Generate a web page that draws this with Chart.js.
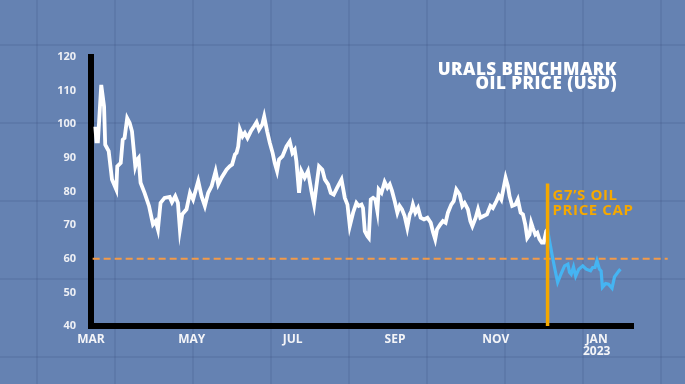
<!DOCTYPE html>
<html><head><meta charset="utf-8">
<script src="https://cdn.jsdelivr.net/npm/chart.js@4.4.1/dist/chart.umd.min.js"></script>
<style>html,body{margin:0;padding:0;background:#6582b2;}canvas{display:block;}</style>
</head><body>
<canvas id="c" width="685" height="384"></canvas>
<script>
// Days counted from 1 March 2022
const titleLines = ['URALS BENCHMARK', 'OIL PRICE (USD)'];
const capLabelLines = ['G7\u2019S OIL', 'PRICE CAP'];
const monthTickDays = [0, 61, 122, 184, 245, 306];
const monthTickLabels = ['MAR', 'MAY', 'JUL', 'SEP', 'NOV', ['JAN', '2023']];
const capDay = 276.3;
const capLineTop = 82.4;
const priceCap = 60;
const capLineEndDay = 349;

const whiteDays = [2.6,3.3,4.2,6.2,7.9,8.6,10.7,12.7,15.3,15.9,18.0,19.2,20.3,21.9,23.4,24.8,26.8,28.0,28.8,30.0,32.4,35.1,37.5,39.1,40.5,42.1,44.5,47.6,49.0,51.0,52.6,53.8,55.2,57.8,59.9,61.8,64.9,66.9,68.9,70.9,73.0,75.4,77.0,79.0,82.0,84.0,85.4,87.1,88.1,89.1,90.1,91.7,93.1,94.7,96.7,98.7,100.2,101.7,103.6,104.8,106.6,108.2,109.9,111.2,112.6,113.8,115.9,118.3,120.3,121.9,123.3,124.3,125.9,127.3,129.3,131.3,133.4,135.0,136.4,138.0,140.0,141.5,143.5,145.1,146.9,148.9,151.6,153.6,155.2,156.6,158.6,160.6,162.0,163.7,164.6,165.7,167.3,168.1,169.3,170.7,172.1,173.3,174.1,175.8,177.7,179.4,180.8,182.2,183.8,185.4,186.8,188.2,189.8,191.4,192.9,193.9,194.8,196.3,197.9,199.5,201.5,203.6,205.6,207.0,208.3,209.4,211.4,213.0,214.6,216.0,218.0,219.5,221.1,223.1,224.7,226.1,228.1,229.6,230.8,232.8,234.2,235.6,237.6,239.6,241.7,243.2,245.3,246.8,248.3,249.7,250.9,252.3,253.3,254.9,256.9,258.3,260.0,261.4,262.8,264.0,265.4,266.4,267.4,268.9,270.1,271.4,272.8,274.0,275.5,276.3];
const whitePrices = [99.3,94.9,94.9,111.7,105.3,93.9,92.0,83.6,80.6,87.5,88.5,95.4,95.9,101.8,100.4,97.9,87.5,89.5,90.0,82.6,79.6,75.7,70.2,71.2,68.7,76.6,78.1,78.4,76.8,78.6,76.6,68.7,73.2,74.7,79.6,77.6,83.1,78.6,75.7,79.6,81.6,86.0,82.1,84.1,86.5,87.5,88.0,91.0,91.5,93.4,98.4,96.4,97.4,95.9,97.9,99.4,100.6,98.4,99.9,102.3,97.9,94.5,91.5,88.5,86.1,89.5,90.5,93.4,94.9,91.5,92.4,89.0,79.6,86.1,84.1,86.1,80.1,76.1,81.6,87.5,86.5,83.6,82.1,79.6,79.1,81.1,83.6,78.1,76.1,69.7,73.7,76.6,75.7,76.1,75.1,68.2,66.7,66.2,77.6,78.1,77.6,74.2,80.6,79.6,82.8,81.1,82.1,80.1,77.1,73.7,75.7,74.7,72.7,69.2,73.2,74.2,76.1,73.7,75.1,72.2,71.7,72.2,70.7,67.9,65.8,68.7,70.2,71.2,70.7,73.7,76.1,77.1,80.6,79.1,75.7,76.6,74.7,71.2,69.7,72.2,74.7,72.2,72.7,73.2,75.7,75.1,77.1,78.8,77.6,81.1,84.1,81.6,78.6,75.7,76.1,77.6,73.7,73.2,70.2,66.2,67.2,70.7,69.2,67.2,67.7,65.8,64.8,64.8,68.2,68.7];

const blueDays = [276.3,277.5,279.5,280.9,282.4,284.2,286.6,288.6,289.6,290.6,292.0,293.3,295.2,297.6,299.7,302.3,303.6,305.0,306.2,307.7,308.7,309.5,311.4,313.2,315.3,316.8,319.5,320.4];
const bluePrices = [68.7,65.3,59.9,56.5,53.0,55.2,57.9,58.4,56.0,55.4,57.6,54.8,56.9,57.9,56.9,56.4,57.4,57.4,59.4,56.9,56.4,51.5,52.6,52.4,51.2,54.6,56.4,56.9];

const zip = (xs, ys) => xs.map((x, i) => ({x: x, y: ys[i]}));
const FONT = '"Open Sans", "Noto Sans", sans-serif';

const decor = {
  id: 'decor',
  beforeDraw(chart) {
    const ctx = chart.ctx;
    ctx.save();
    ctx.fillStyle = '#6582b2';
    ctx.fillRect(0, 0, chart.width, chart.height);
    ctx.strokeStyle = 'rgba(45,65,105,0.13)';
    ctx.lineWidth = 2;
    for (let x = 37; x < chart.width; x += 78) { ctx.beginPath(); ctx.moveTo(x, 0); ctx.lineTo(x, chart.height); ctx.stroke(); }
    for (let y = 45; y < chart.height; y += 78) { ctx.beginPath(); ctx.moveTo(0, y); ctx.lineTo(chart.width, y); ctx.stroke(); }
    ctx.restore();
  },
  afterDraw(chart) {
    const ctx = chart.ctx;
    const xs = chart.scales.x, ys = chart.scales.y;
    ctx.save();
    ctx.fillStyle = '#ffffff';
    ctx.font = '800 17px ' + FONT;
    ctx.letterSpacing = '0.5px';
    ctx.textAlign = 'right';
    ctx.textBaseline = 'alphabetic';
    ctx.fillText(titleLines[0], 617, 75);
    ctx.fillText(titleLines[1], 617, 89);
    ctx.fillStyle = '#f5a800';
    ctx.font = '700 15px ' + FONT;
    ctx.letterSpacing = '0.6px';
    ctx.textAlign = 'left';
    const lx = xs.getPixelForValue(capDay) + 5;
    const ly = ys.getPixelForValue(capLineTop);
    ctx.fillText(capLabelLines[0], lx, ly + 17);
    ctx.fillText(capLabelLines[1], lx, ly + 32);
    ctx.restore();
  }
};

new Chart(document.getElementById('c'), {
  type: 'line',
  data: {
    datasets: [
      {data: zip(whiteDays, whitePrices), borderColor: '#ffffff', borderWidth: 3.8, pointRadius: 0, order: 1},
      {data: zip(blueDays, bluePrices), borderColor: '#45b4f2', borderWidth: 3.2, pointRadius: 0, order: 1},
      {data: [{x: capDay, y: 40}, {x: capDay, y: capLineTop}], borderColor: '#f5a800', borderWidth: 3.5, pointRadius: 0, order: 0},
      {data: [{x: 1, y: priceCap}, {x: capLineEndDay, y: priceCap}], borderColor: '#f39a48', borderWidth: 2, borderDash: [7, 4], pointRadius: 0, order: 3, clip: false}
    ]
  },
  options: {
    responsive: false,
    animation: false,
    events: [],
    layout: {padding: {top: 57, right: 52, left: 0, bottom: 0}},
    plugins: {legend: {display: false}, tooltip: {enabled: false}},
    scales: {
      x: {
        type: 'linear', min: 0, max: 328,
        afterBuildTicks: s => { s.ticks = monthTickDays.map(v => ({value: v})); },
        afterFit: s => { s.height = 58; },
        grid: {display: true, color: 'transparent', drawTicks: false},
        border: {display: true, color: '#000000', width: 6},
        ticks: {
          autoSkip: false, maxRotation: 0, padding: 8,
          color: '#f4f5f8', font: {family: FONT, size: 12, weight: 'bold', lineHeight: 1.0},
          callback: (v, i) => monthTickLabels[i]
        }
      },
      y: {
        min: 40, max: 120,
        afterFit: s => { s.width = 91; },
        grid: {display: true, color: 'transparent', drawTicks: false},
        border: {display: true, color: '#000000', width: 6},
        ticks: {stepSize: 10, padding: 15, color: '#eef0f5', font: {family: FONT, size: 11, weight: 'bold'}}
      }
    }
  },
  plugins: [decor]
});
</script>
</body></html>
